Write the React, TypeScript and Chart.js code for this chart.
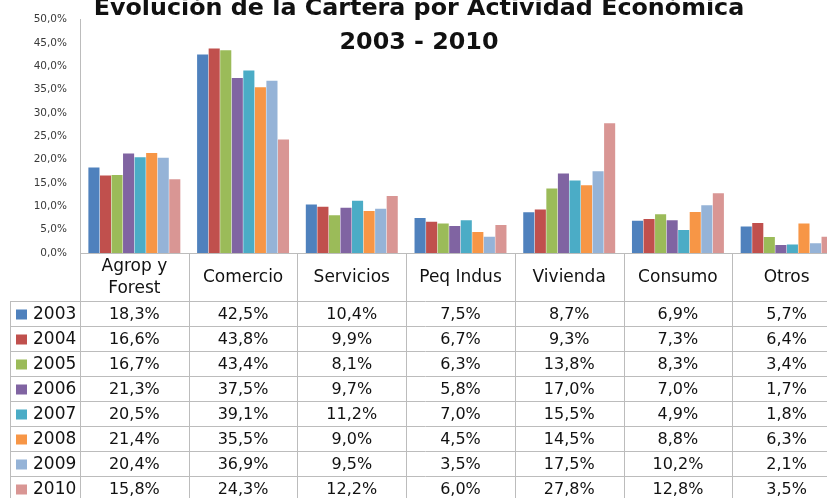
import React, { useEffect, useRef } from "react";
import { Chart, registerables } from "chart.js";

Chart.register(...registerables);

const categories = ["Agrop y\nForest", "Comercio", "Servicios", "Peq Indus", "Vivienda", "Consumo", "Otros"];
const years = ["2003", "2004", "2005", "2006", "2007", "2008", "2009", "2010"];
const colors = ["#4F81BD", "#C0504D", "#9BBB59", "#8064A2", "#4BACC6", "#F79646", "#95B3D7", "#D99694"];

const v2003 = [18.3, 42.5, 10.4, 7.5, 8.7, 6.9, 5.7];
const v2004 = [16.6, 43.8, 9.9, 6.7, 9.3, 7.3, 6.4];
const v2005 = [16.7, 43.4, 8.1, 6.3, 13.8, 8.3, 3.4];
const v2006 = [21.3, 37.5, 9.7, 5.8, 17.0, 7.0, 1.7];
const v2007 = [20.5, 39.1, 11.2, 7.0, 15.5, 4.9, 1.8];
const v2008 = [21.4, 35.5, 9.0, 4.5, 14.5, 8.8, 6.3];
const v2009 = [20.4, 36.9, 9.5, 3.5, 17.5, 10.2, 2.1];
const v2010 = [15.8, 24.3, 12.2, 6.0, 27.8, 12.8, 3.5];
const seriesValues = [v2003, v2004, v2005, v2006, v2007, v2008, v2009, v2010];

const titleLines = ["Evolución de la Cartera por Actividad Económica", "2003 - 2010"];

const fmt = (v: number) => v.toFixed(1).replace(".", ",") + "%";

const W = 845;
const H = 498;
const FONT = "'DejaVu Sans', Verdana, sans-serif";
const LINE = "#bcbcbc";

const overlayPlugin = {
  id: "overlay",
  afterDraw(chart: any) {
    const { ctx, chartArea, scales } = chart;
    const x = scales.x;
    const n = categories.length;
    const step = x.getPixelForValue(1) - x.getPixelForValue(0);
    const left = chartArea.left;
    const right = left + step * n;
    const axisY = chartArea.bottom;
    const rowH = 25;
    const tableTop = 301;
    const legendLeft = 10;
    const bottom = H + 10;

    ctx.save();
    // title
    ctx.fillStyle = "#111";
    ctx.font = `bold 23.8px ${FONT}`;
    ctx.textAlign = "center";
    ctx.textBaseline = "alphabetic";
    ctx.fillText(titleLines[0], 419, 15);
    ctx.fillText(titleLines[1], 419, 49);

    // grid lines
    ctx.strokeStyle = LINE;
    ctx.lineWidth = 1;
    ctx.beginPath();
    ctx.moveTo(left, Math.round(axisY) + 0.5);
    ctx.lineTo(right, Math.round(axisY) + 0.5);
    for (let i = 0; i <= n; i++) {
      const px = Math.round(left + step * i) + 0.5;
      ctx.moveTo(px, axisY);
      ctx.lineTo(px, bottom);
    }
    ctx.moveTo(legendLeft + 0.5, tableTop);
    ctx.lineTo(legendLeft + 0.5, bottom);
    for (let r = 0; r <= years.length; r++) {
      const py = tableTop + r * rowH + 0.5;
      ctx.moveTo(legendLeft, py);
      ctx.lineTo(right, py);
    }
    ctx.stroke();

    // header labels
    ctx.fillStyle = "#111";
    ctx.font = `17px ${FONT}`;
    ctx.textBaseline = "middle";
    ctx.textAlign = "center";
    categories.forEach((c, i) => {
      const cx = x.getPixelForValue(i);
      const lines = c.split("\n");
      const lh = 22;
      const cy = 278;
      lines.forEach((ln, j) => {
        ctx.fillText(ln, cx, cy - ((lines.length - 1) * lh) / 2 + j * lh);
      });
    });

    // rows
    years.forEach((yr, r) => {
      const cy = tableTop + r * rowH + rowH / 2 + 1;
      ctx.fillStyle = colors[r];
      ctx.fillRect(16, cy - 5, 11, 10);
      ctx.fillStyle = "#111";
      ctx.font = `17px ${FONT}`;
      ctx.textAlign = "left";
      ctx.fillText(yr, 33, cy);
      ctx.font = `16px ${FONT}`;
      ctx.textAlign = "center";
      seriesValues[r].forEach((v, i) => {
        ctx.fillText(fmt(v), x.getPixelForValue(i), cy);
      });
    });
    ctx.restore();
  },
};

export default function App() {
  const ref = useRef<HTMLCanvasElement | null>(null);

  useEffect(() => {
    if (!ref.current) return;
    const chart = new Chart(ref.current, {
      type: "bar",
      data: {
        labels: categories,
        datasets: years.map((y, i) => ({
          label: y,
          data: seriesValues[i],
          backgroundColor: colors[i],
          borderWidth: 0,
          categoryPercentage: 0.85,
          barPercentage: 0.96,
        })),
      },
      options: {
        responsive: false,
        animation: false,
        devicePixelRatio: 1,
        layout: { padding: { top: 19.5, right: W - 841, bottom: H - 253, left: 0 } },
        plugins: { legend: { display: false }, title: { display: false }, tooltip: { enabled: false } },
        scales: {
          x: { display: false },
          y: {
            min: 0,
            max: 50,
            grid: { display: false },
            border: { display: true, color: LINE, width: 1 },
            ticks: {
              stepSize: 5,
              padding: 5,
              color: "#3a3a3a",
              font: { family: FONT, size: 10.5 },
              callback: (v: any) => fmt(Number(v)),
            },
            afterFit: (s: any) => {
              s.width = 80;
            },
          },
        },
      },
      plugins: [overlayPlugin],
    });
    return () => chart.destroy();
  }, []);

  return (
    <div style={{ position: "fixed", left: 0, top: 0, width: W, height: H, background: "#fff" }}>
      <canvas ref={ref} width={W} height={H} style={{ width: W, height: H, display: "block" }} />
    </div>
  );
}
